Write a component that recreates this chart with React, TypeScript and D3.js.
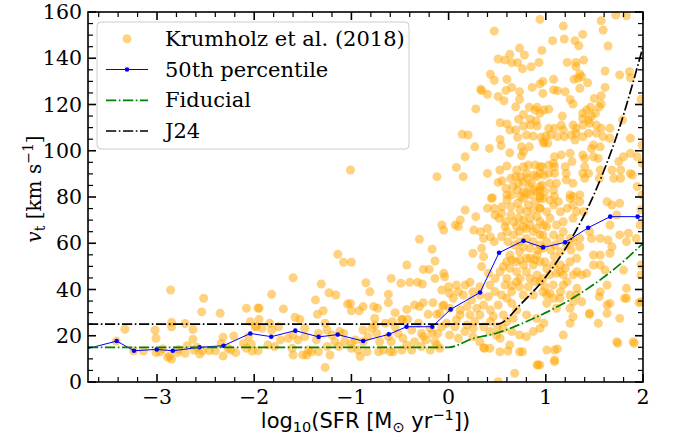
import React from 'react';
import * as d3 from 'd3';

const W = 678;
const H = 440;
const PLOT = { left: 88, right: 643, top: 12, bottom: 382 };

const xDomain: [number, number] = [-3.71, 2];
const yDomain: [number, number] = [0, 160];
const xMajorTicks = [-3, -2, -1, 0, 1, 2];
const xTickLabels = ['\u22123', '\u22122', '\u22121', '0', '1', '2'];
const yMajorTicks = [0, 20, 40, 60, 80, 100, 120, 140, 160];
const yTickLabels = ['0', '20', '40', '60', '80', '100', '120', '140', '160'];

const legendLabels = ['Krumholz et al. (2018)', '50th percentile', 'Fiducial', 'J24'];

// Krumholz et al. (2018) scatter: [log10 SFR, v_t]
const scatterLowSfr: [number, number][] = [
  [-2.86,39.8],[-2.52,36.2],[-2.54,30.3],[-2.35,29.7],[-2.08,31.9],[-1.96,32],[-3.33,22.8],[-3.42,17.7],
  [-3.02,22.5],[-3.01,18.9],[-3.24,13.4],[-3.14,13.4],[-3.01,12.7],[-2.97,13.1],[-2.94,14.3],[-2.87,11.2],
  [-2.85,9.8],[-2.89,10.7],[-2.85,25.8],[-2.85,23.9],[-2.79,12.7],[-2.78,14.1],[-2.71,25.3],[-2.71,12.4],
  [-2.69,15.7],[-2.63,22.7],[-2.63,18.5],[-2.62,13.8],[-2.59,15.0],[-2.56,12.1],[-2.53,13.5],[-2.46,13.5],
  [-2.40,13.5],[-2.34,16.7],[-2.32,19.3],[-2.32,11.2],[-2.27,14.6],[-2.24,13.8],[-2.21,19.9],[-2.19,12.7],
  [-2.11,16.7],[-2.08,14.6],[-2.06,19.6],[-2.04,26.1],[-2.03,16.4],[-2.02,13.4],[-1.98,23.9],[-1.96,13.5],
  [-1.01,91.7],[-0.12,88.8],[-0.07,67.9],[-0.05,65.7],[-0.30,61.7],[-0.17,57.4],[-0.14,52.3],[-1.14,55.2],
  [-1.08,51.8],[-1.00,51.8],[-0.43,50.6],[-0.26,48.7],[-0.20,48.7],[-0.14,44.8],[-1.60,45.1],[-1.31,42.4],
  [-0.85,42.9],[-0.81,39.0],[-0.59,44.8],[-0.49,42.7],[-0.40,43.1],[-0.32,43.1],[-0.27,42.4],[-0.07,39.8],
  [-1.82,37.9],[-1.23,38.6],[-1.16,37.6],[-0.62,37.9],[-1.95,31.9],[-1.70,31.6],[-1.37,35.5],[-1.35,29.3],
  [-1.29,30.8],[-1.04,33.7],[-1.01,34.0],[-1.00,30.8],[-0.92,30.8],[-0.88,32.6],[-0.77,32.6],[-0.73,31.9],
  [-0.76,27.5],[-0.62,34.3],[-0.55,30.0],[-0.43,31.4],[-0.35,33.3],[-0.30,32.6],[-0.26,34.3],[-0.16,34.3],
  [-0.06,32.9],[-0.21,29.3],[-0.12,29.3],[-0.48,27.1],[-0.42,27.1],[-0.58,26.1],[-1.58,28.0],[-1.53,27.1],
  [-1.95,27.1],
  [-1.99,23.9],[-1.92,23.2],[-1.84,25.4],[-1.82,22.5],[-1.75,23.9],[-1.73,18.2],[-1.65,18.9],[-1.60,20.3],
  [-1.55,18.2],[-1.48,23.2],[-1.48,19.6],[-1.44,13.8],[-1.36,18.2],[-1.34,21.0],[-1.27,25.4],[-1.25,22.5],
  [-1.20,20.3],[-1.17,17.4],[-1.12,21.8],[-1.08,21.0],[-1.07,17.4],[-1.00,16.7],[-0.96,18.2],[-0.93,13.8],
  [-0.88,22.5],[-0.88,17.4],[-0.83,19.6],[-0.79,23.2],[-0.76,24.6],[-0.74,21.0],[-0.71,17.4],[-0.65,25.4],
  [-0.62,19.6],[-0.59,17.4],[-0.55,23.9],[-0.52,21.0],[-0.48,26.8],[-0.47,18.9],[-0.43,16.0],[-0.38,22.5],
  [-0.35,17.4],[-0.31,25.4],[-0.28,21.0],[-0.26,19.6],[-0.23,18.2],[-0.19,23.2],[-0.17,21.0],[-0.14,17.4],
  [-0.11,21.0],[-0.09,29.7],[-0.07,23.9],
  [-1.86,16.0],[-1.79,15.3],[-1.61,14.6],[-1.60,11.7],[-1.50,11.7],[-1.46,11.7],[-1.41,13.1],[-1.34,13.1],
  [-1.25,15.3],[-1.22,11.7],[-1.13,15.3],[-1.00,14.6],[-0.91,11.0],[-0.84,13.1],[-0.72,13.1],[-0.67,13.8],
  [-0.60,13.1],[-0.57,13.1],[-0.48,13.8],[-0.38,13.8],[-0.28,15.3],[-0.19,13.8],[-0.09,14.6],[-0.12,16.0],
  [-1.27,6.3],
];

const scatterHighSfr: [number, number][] = [
  [0.94,156.8],[0.47,151.8],[0.73,144.4],[0.63,141.7],[0.78,141.4],[0.96,143.4],[0.51,139.7],[0.58,139.2],
  [0.65,138.1],[0.71,138.1],[0.76,135.5],[0.85,136.3],[0.93,138.2],[0.43,133.1],[0.47,130.5],[0.60,130.9],
  [0.94,128.9],[0.97,130.0],[0.33,126.6],[0.34,126.0],[0.40,124.4],[0.51,123.5],[0.59,126.1],[0.65,127.4],
  [0.73,125.5],[0.86,127.4],[0.97,124.8],[0.57,121.6],[0.73,122.2],[0.28,118.1],[0.69,119.0],[0.83,118.8],
  [0.91,118.8],[0.89,117.6],[0.94,116.2],[0.77,115.7],[0.72,113.6],[0.84,113.6],[0.90,112.9],[0.53,112.1],
  [0.60,111.6],[0.77,110.7],[0.84,111.1],[0.91,110.7],[0.63,109.0],[0.69,109.0],[0.14,107.1],[0.20,106.8],
  [0.71,105.8],[0.80,106.8],[0.87,106.4],[0.95,105.8],[0.53,104.9],[0.27,101.7],[0.42,101.0],[0.54,102.2],
  [0.75,101.7],[0.83,101.7],[0.77,99.6],[0.63,99.1],[0.75,97.8],[0.17,97.4],[0.98,103.2],[0.08,92.8],
  [0.15,88.8],[0.60,93.4],[0.40,90.2],[0.77,93.1],[0.82,93.8],[0.89,93.8],[0.94,93.1],[0.51,86.3],
  [0.55,87.0],[0.64,88.1],[0.69,88.8],[0.74,88.8],[0.81,88.1],[0.88,89.5],[0.94,90.2],[0.59,83.7],
  [0.66,84.5],[0.71,83.0],[0.77,82.3],[0.83,84.5],[0.88,83.0],[0.96,85.2],[0.45,79.7],[0.60,80.9],
  [0.74,80.2],[0.84,80.9],[0.94,80.2],[0.528,91.7],[0.700,91.7],[0.803,90.2],[0.905,88.8],[0.648,80.9],
  [0.803,81.6],[0.905,82.3],[0.717,85.9],[0.768,86.6],[0.854,85.9],[0.940,83.0],
  [1.72,158.7],[1.83,158.4],[1.57,156.2],[1.18,153.9],[1.59,152.2],[1.38,150.3],[1.07,147.6],[1.19,148.3],
  [1.30,147.6],[1.34,145.4],[1.64,145.3],[1.22,138.2],[1.31,138.2],[1.39,139.2],[1.31,136.4],[1.61,134.5],
  [1.76,132.8],[1.86,134.2],[1.87,131.6],[1.35,133.2],[1.37,132.0],[1.08,130.9],[1.29,130.9],[1.33,131.3],
  [1.43,129.4],[1.35,127.0],[1.08,126.3],[1.12,126.0],[1.20,125.5],[1.61,127.4],[1.57,123.8],[1.25,122.2],
  [1.28,120.2],[1.50,122.6],[1.98,122.2],[1.57,120.2],[0.98,117.6],[1.03,117.9],[1.46,118.8],[1.42,117.6],
  [1.38,116.2],[1.38,114.0],[1.44,113.3],[1.47,115.0],[1.51,116.2],[1.55,119.0],[1.17,115.0],[1.79,113.3],
  [1.03,109.7],[1.09,109.7],[1.16,111.1],[1.18,109.0],[1.28,111.1],[1.31,109.7],[1.31,107.6],[1.38,111.1],
  [1.45,111.9],[1.52,111.1],[1.57,109.7],[1.66,109.7],[1.00,106.4],[1.05,106.8],[1.12,106.1],[1.19,106.1],
  [1.26,106.8],[0.98,103.9],[1.02,103.2],[1.30,104.6],[1.38,106.1],[1.44,107.6],[1.52,107.6],[1.59,106.1],
  [1.66,105.4],[1.49,102.5],[1.56,101.7],[1.47,101.0],[1.87,105.4],[1.99,102.5],[1.87,98.9],[1.94,97.4],
  [1.99,94.6],[1.80,97.4],[1.75,95.3],[1.09,97.4],[1.08,94.6],[1.16,98.2],[1.25,98.9],[1.38,98.2],
  [1.40,96.7],[1.49,97.4],[1.54,96.7],[0.96,93.1],[1.03,93.8],[1.09,93.1],[1.20,93.1],[1.27,95.3],
  [1.40,93.1],[1.44,90.2],[1.56,91.7],[1.68,91.7],[1.77,91.7],[1.87,90.2],[1.70,88.1],[1.77,88.1],
  [1.89,89.5],[0.98,89.5],[1.03,90.2],[1.09,90.2],[1.11,85.9],[1.04,85.9],[1.21,90.2],[1.21,87.4],
  [1.28,85.9],[0.94,84.5],[0.99,82.3],[1.08,83.0],[1.09,80.2],[1.25,80.9],[1.28,80.2],[1.35,80.9],
  [1.38,90.2],[1.40,88.1],[1.55,88.1],[1.94,84.5],[1.99,80.9],
  [0.44,79.4],[0.17,74.4],[0.28,71.5],[0.40,75.1],[0.47,75.1],[0.55,75.8],[0.60,78.7],[0.64,75.8],
  [0.71,77.3],[0.77,79.4],[0.82,76.5],[0.89,78.0],[0.94,79.4],[0.94,75.1],[0.12,70.1],[0.07,67.9],
  [0.10,67.2],[0.26,65.7],[0.33,65.0],[0.40,66.4],[0.43,62.8],[0.36,62.1],[0.47,60.7],[0.52,70.8],
  [0.59,69.3],[0.64,72.2],[0.67,69.3],[0.72,70.8],[0.77,70.1],[0.84,70.8],[0.91,71.5],[0.94,69.3],
  [0.98,67.9],[0.60,65.0],[0.67,63.6],[0.73,65.0],[0.80,66.4],[0.87,65.0],[0.94,63.6],[0.61,60.7],
  [0.68,59.2],[0.80,62.1],[0.87,60.7],[0.94,59.2],[0.91,54.9],[0.84,53.5],[0.73,56.3],[0.63,54.9],
  [0.69,52.0],[0.77,50.6],[0.87,50.6],[0.94,52.0],[0.63,49.2],[0.70,47.7],[0.80,47.7],[0.91,46.3],
  [0.94,43.4],[0.60,44.8],[0.53,47.7],[0.36,54.2],[0.34,49.9],[0.41,47.0],[0.48,44.8],[0.34,57.8],
  [0.25,55.7],[-0.05,47.0],[-0.04,45.5],[0.00,41.2],[0.08,41.9],[0.17,41.9],[0.22,43.1],[0.01,38.4],
  [0.10,39.0],[0.25,39.0],[0.58,41.9],[0.65,41.6],[0.73,41.2],[0.82,41.2],[-0.05,33.3],[0.01,31.9],
  [0.12,31.1],[0.19,32.6],[0.29,31.9],[0.36,33.3],[0.43,31.1],[0.51,33.3],[0.60,36.2],[0.65,34.0],
  [0.70,31.1],[-0.02,25.4],[0.08,26.8],[0.19,24.6],[0.27,26.1],[0.36,23.9],[0.43,26.1],[0.50,23.9],
  [0.56,23.2],[0.65,21.8],[0.73,20.3],[0.80,19.6],[0.87,21.8],[0.94,23.2],[0.98,25.4],[0.01,20.3],
  [0.10,18.9],[0.25,19.6],[0.32,17.4],[0.53,18.9],[0.63,16.0],[0.73,13.1],[0.36,14.8],[0.61,13.4],
  [0.92,7.4],[0.51,0.1],[0.68,3.8],
  [0.477,72.2],[0.545,72.9],[0.734,74.4],[0.803,73.7],[0.871,74.4],[0.580,67.2],[0.700,67.2],[0.768,67.2],
  [0.837,67.9],[0.905,66.4],[0.545,62.9],[0.734,60.7],[0.768,58.5],[0.837,57.8],[0.923,57.1],[0.648,52.8],
  [0.734,52.8],[0.803,53.5],[0.888,52.8],[0.597,52.0],[0.563,49.9],[0.734,44.8],[0.837,44.8],[0.888,43.4],
  [0.425,42.0],[0.322,41.2],[0.768,37.6],[0.871,37.6],[0.648,39.1],[0.700,43.4],
  [0.048,36.2],[0.151,37.6],[0.237,35.5],[0.322,37.6],[0.408,36.9],[0.477,39.1],[0.545,37.6],[0.117,29.0],
  [0.220,29.0],[0.322,29.0],[0.460,28.3],[0.563,29.0],[0.065,23.9],[0.168,21.8],[0.254,23.2],[0.425,21.8],
  [0.494,20.3],[0.597,26.1],[0.665,27.5],[0.803,29.0],[0.905,27.5],[0.425,14.6],[0.528,13.1],
  [0.94,75.1],[1.01,73.6],[1.08,76.5],[1.15,73.6],[1.22,75.1],[1.28,76.5],[1.35,78.0],[1.39,73.6],
  [1.28,70.8],[1.18,69.3],[1.11,67.9],[1.01,67.2],[0.97,63.6],[1.08,63.6],[1.18,65.0],[1.25,62.1],
  [1.35,62.1],[1.45,65.0],[1.47,62.1],[1.56,62.1],[1.63,78.0],[1.68,76.5],[1.76,77.3],[1.73,72.2],
  [1.66,67.9],[1.76,63.6],[1.85,64.3],[1.93,62.1],[1.83,60.7],[1.64,61.4],[1.68,58.5],[1.66,55.7],
  [1.56,54.9],[1.49,54.9],[1.35,58.5],[1.26,57.1],[1.15,56.3],[1.05,57.1],[0.97,57.8],[1.09,54.2],
  [0.99,52.0],[1.08,50.6],[1.15,50.6],[1.20,49.2],[1.11,47.0],[1.04,46.3],[1.18,46.3],[1.22,43.4],
  [1.32,47.7],[1.37,46.3],[1.42,47.0],[1.49,50.6],[1.56,50.6],[1.61,48.4],[1.80,48.4],[1.98,46.3],
  [1.98,50.6],[0.97,44.8],[0.99,41.2],[0.97,39.0],[1.04,38.4],[1.15,39.0],[1.25,37.6],[1.32,40.5],
  [1.37,34.7],[1.56,39.0],[1.63,41.9],[1.83,40.5],[1.81,36.2],[1.63,33.3],[1.45,29.7],[1.54,25.4],
  [1.76,27.5],[1.25,31.9],[1.11,31.9],[1.01,34.0],[1.08,36.2],[1.28,28.2],[1.25,25.4],[1.18,20.3],
  [1.01,13.8],[1.09,13.8],[1.12,14.3],[1.09,9.5],[1.73,17.4],[1.90,17.4],[1.98,34.7],[1.83,36.2],
  [0.94,7.4],[1.98,74.5],[1.97,67.9],
  [0.974,79.4],[1.043,78.7],[1.129,78.0],[1.249,79.4],[1.317,73.7],[1.043,70.8],[1.146,62.1],[1.009,60.7],
  [1.094,59.2],[1.214,59.2],[1.283,60.7],[1.317,53.5],[1.249,52.0],[1.146,47.7],[1.009,49.1],[1.283,46.3],
  [1.077,42.0],[1.180,42.0],[1.009,37.6],[1.146,36.2],[1.283,34.7],[1.317,37.6],
  [0.37,14.6],[0.76,13.1],[0.91,7.4],[1.09,8.8],[1.45,29.3],[1.63,29.7],[1.55,36.9],[1.66,34.0],
  [1.74,16.7],[1.91,16.7],[1.96,34.3],
];

// 50th percentile (binned median)
const medianLogSfr = [-3.9, -3.415, -3.237, -3.003, -2.838, -2.563, -2.316, -2.04, -1.825, -1.577, -1.337,
  -1.141, -0.879, -0.615, -0.433, -0.168, 0.021, 0.323, 0.519, 0.77, 0.972, 1.199, 1.436, 1.663, 1.945, 2.15];
const medianVt = [12.4, 17.7, 13.5, 14.1, 13.5, 15.0, 15.7, 21.0, 19.6, 22.2, 19.5,
  20.5, 17.7, 20.6, 23.9, 23.9, 31.4, 38.7, 55.9, 61.1, 58.2, 60.4, 66.7, 71.5, 71.5, 71.5];

// Fiducial model
const fiducialLogSfr = [-3.71, 0, 0.25, 0.5, 0.75, 1.0, 1.25, 1.5, 1.75, 2.0];
const fiducialVt = [15, 15, 18.8, 21.2, 25.2, 30, 35.6, 42.4, 50.4, 60];

// J24 model
const j24LogSfr = [-3.71, 0.5, 0.75, 1.0, 1.25, 1.5, 1.75, 2.0];
const j24Vt = [25, 25, 34, 45.5, 61, 81.5, 109, 145];

const SERIF = '"DejaVu Serif", serif';
const SANS = '"DejaVu Sans", sans-serif';
const DASHDOT = '10.2,2.6,1.6,2.6';
const DOT_R = 4.5;

export default function App() {
  const x = d3.scaleLinear().domain(xDomain).range([PLOT.left, PLOT.right]);
  const y = d3.scaleLinear().domain(yDomain).range([PLOT.bottom, PLOT.top]);

  const line = d3.line<[number, number]>().x(d => x(d[0])).y(d => y(d[1]));
  const smooth = d3.line<[number, number]>().x(d => x(d[0])).y(d => y(d[1])).curve(d3.curveMonotoneX);

  const medianPts = medianLogSfr.map((v, i) => [v, medianVt[i]] as [number, number]);
  const fidPts = fiducialLogSfr.map((v, i) => [v, fiducialVt[i]] as [number, number]);
  const j24Pts = j24LogSfr.map((v, i) => [v, j24Vt[i]] as [number, number]);

  const xMinor = d3.range(-3.6, 2.001, 0.2).map(v => Math.round(v * 10) / 10).filter(v => !xMajorTicks.includes(v));
  const yMinor = d3.range(0, 160.001, 5).filter(v => v % 20 !== 0);

  const allScatter = [...scatterLowSfr, ...scatterHighSfr];

  const legendX = 97, legendY = 22, legendW = 312, legendH = 127;
  const rowBase = [45.7, 76.5, 107.3, 138];
  const handleX0 = 106, handleX1 = 148, textX = 165;

  return (
    <div style={{ position: 'fixed', left: 0, top: 0 }}>
      <svg width={W} height={H} viewBox={`0 0 ${W} ${H}`} style={{ display: 'block', background: '#fff' }}>
        <defs>
          <clipPath id="plotclip">
            <rect x={PLOT.left} y={PLOT.top} width={PLOT.right - PLOT.left} height={PLOT.bottom - PLOT.top} />
          </clipPath>
        </defs>
        <rect x={0} y={0} width={W} height={H} fill="#fff" />
        <g clipPath="url(#plotclip)">
          {allScatter.map((d, i) => (
            <circle key={i} cx={x(d[0])} cy={y(d[1])} r={DOT_R} fill="#FFA500" fillOpacity={0.5} />
          ))}
          <path d={line(medianPts) || ''} fill="none" stroke="#0000ff" strokeWidth={1} />
          {medianPts.map((d, i) => (
            <circle key={'m' + i} cx={x(d[0])} cy={y(d[1])} r={2.3} fill="#0000ff" />
          ))}
          <path d={smooth(fidPts) || ''} fill="none" stroke="#008000" strokeWidth={1.7} strokeDasharray={DASHDOT} />
          <path d={smooth(j24Pts) || ''} fill="none" stroke="#000" strokeWidth={1.7} strokeDasharray={DASHDOT} />
        </g>

        {/* ticks */}
        <g stroke="#000">
          {xMajorTicks.map(v => (
            <g key={'xt' + v}>
              <line x1={x(v)} x2={x(v)} y1={PLOT.bottom} y2={PLOT.bottom - 8} strokeWidth={1.6} />
              <line x1={x(v)} x2={x(v)} y1={PLOT.top} y2={PLOT.top + 8} strokeWidth={1.6} />
            </g>
          ))}
          {xMinor.map(v => (
            <g key={'xm' + v}>
              <line x1={x(v)} x2={x(v)} y1={PLOT.bottom} y2={PLOT.bottom - 5} strokeWidth={1.2} />
              <line x1={x(v)} x2={x(v)} y1={PLOT.top} y2={PLOT.top + 5} strokeWidth={1.2} />
            </g>
          ))}
          {yMajorTicks.map(v => (
            <g key={'yt' + v}>
              <line x1={PLOT.left} x2={PLOT.left + 8} y1={y(v)} y2={y(v)} strokeWidth={1.6} />
              <line x1={PLOT.right} x2={PLOT.right - 8} y1={y(v)} y2={y(v)} strokeWidth={1.6} />
            </g>
          ))}
          {yMinor.map(v => (
            <g key={'ym' + v}>
              <line x1={PLOT.left} x2={PLOT.left + 5} y1={y(v)} y2={y(v)} strokeWidth={1.2} />
              <line x1={PLOT.right} x2={PLOT.right - 5} y1={y(v)} y2={y(v)} strokeWidth={1.2} />
            </g>
          ))}
        </g>
        <rect x={PLOT.left} y={PLOT.top} width={PLOT.right - PLOT.left} height={PLOT.bottom - PLOT.top}
          fill="none" stroke="#000" strokeWidth={1.6} />

        {/* tick labels */}
        {xMajorTicks.map((v, i) => (
          <text key={'xl' + v} x={x(v)} y={404} textAnchor="middle" fontFamily={SERIF} fontSize={20.5} fill="#000">
            {xTickLabels[i]}
          </text>
        ))}
        {yMajorTicks.map((v, i) => (
          <text key={'yl' + v} x={82} y={y(v) + 7} textAnchor="end" fontFamily={SERIF} fontSize={20.5} fill="#000">
            {yTickLabels[i]}
          </text>
        ))}

        {/* axis labels */}
        <text x={(PLOT.left + PLOT.right) / 2} y={428} textAnchor="middle" fontFamily={SANS} fontSize={21} fill="#000">
          log<tspan fontSize={14.5} dy={4}>10</tspan>
          <tspan dy={-4}>(SFR [M</tspan>
          <tspan fontSize={14.5} dy={4}>{'\u2299'}</tspan>
          <tspan dy={-4}> yr</tspan>
          <tspan fontSize={14.5} dy={-8}>{'\u22121'}</tspan>
          <tspan dy={8}>])</tspan>
        </text>
        <text transform={`translate(41,${(PLOT.top + PLOT.bottom) / 2 - 8}) rotate(-90)`} textAnchor="middle"
          fontFamily={SERIF} fontSize={20} fill="#000">
          <tspan fontStyle="italic">v</tspan>
          <tspan fontSize={14} dy={4}>t</tspan>
          <tspan dy={-4}> [km s</tspan>
          <tspan fontSize={14} dy={-8}>{'\u22121'}</tspan>
          <tspan dy={8}>]</tspan>
        </text>

        {/* legend */}
        <rect x={legendX} y={legendY} width={legendW} height={legendH} rx={4} ry={4}
          fill="#fff" fillOpacity={0.8} stroke="#cccccc" strokeWidth={1} />
        <circle cx={(handleX0 + handleX1) / 2} cy={rowBase[0] - 7} r={DOT_R} fill="#FFA500" fillOpacity={0.5} />
        <line x1={handleX0} x2={handleX1} y1={rowBase[1] - 7} y2={rowBase[1] - 7} stroke="#0000ff" strokeWidth={1} />
        <circle cx={(handleX0 + handleX1) / 2} cy={rowBase[1] - 7} r={2.3} fill="#0000ff" />
        <line x1={handleX0} x2={handleX1} y1={rowBase[2] - 7} y2={rowBase[2] - 7} stroke="#008000" strokeWidth={1.7} strokeDasharray={DASHDOT} />
        <line x1={handleX0} x2={handleX1} y1={rowBase[3] - 7} y2={rowBase[3] - 7} stroke="#000" strokeWidth={1.7} strokeDasharray={DASHDOT} />
        {legendLabels.map((t, i) => (
          <text key={t} x={textX} y={rowBase[i]} fontFamily={SERIF} fontSize={21} fill="#000">{t}</text>
        ))}
      </svg>
    </div>
  );
}
